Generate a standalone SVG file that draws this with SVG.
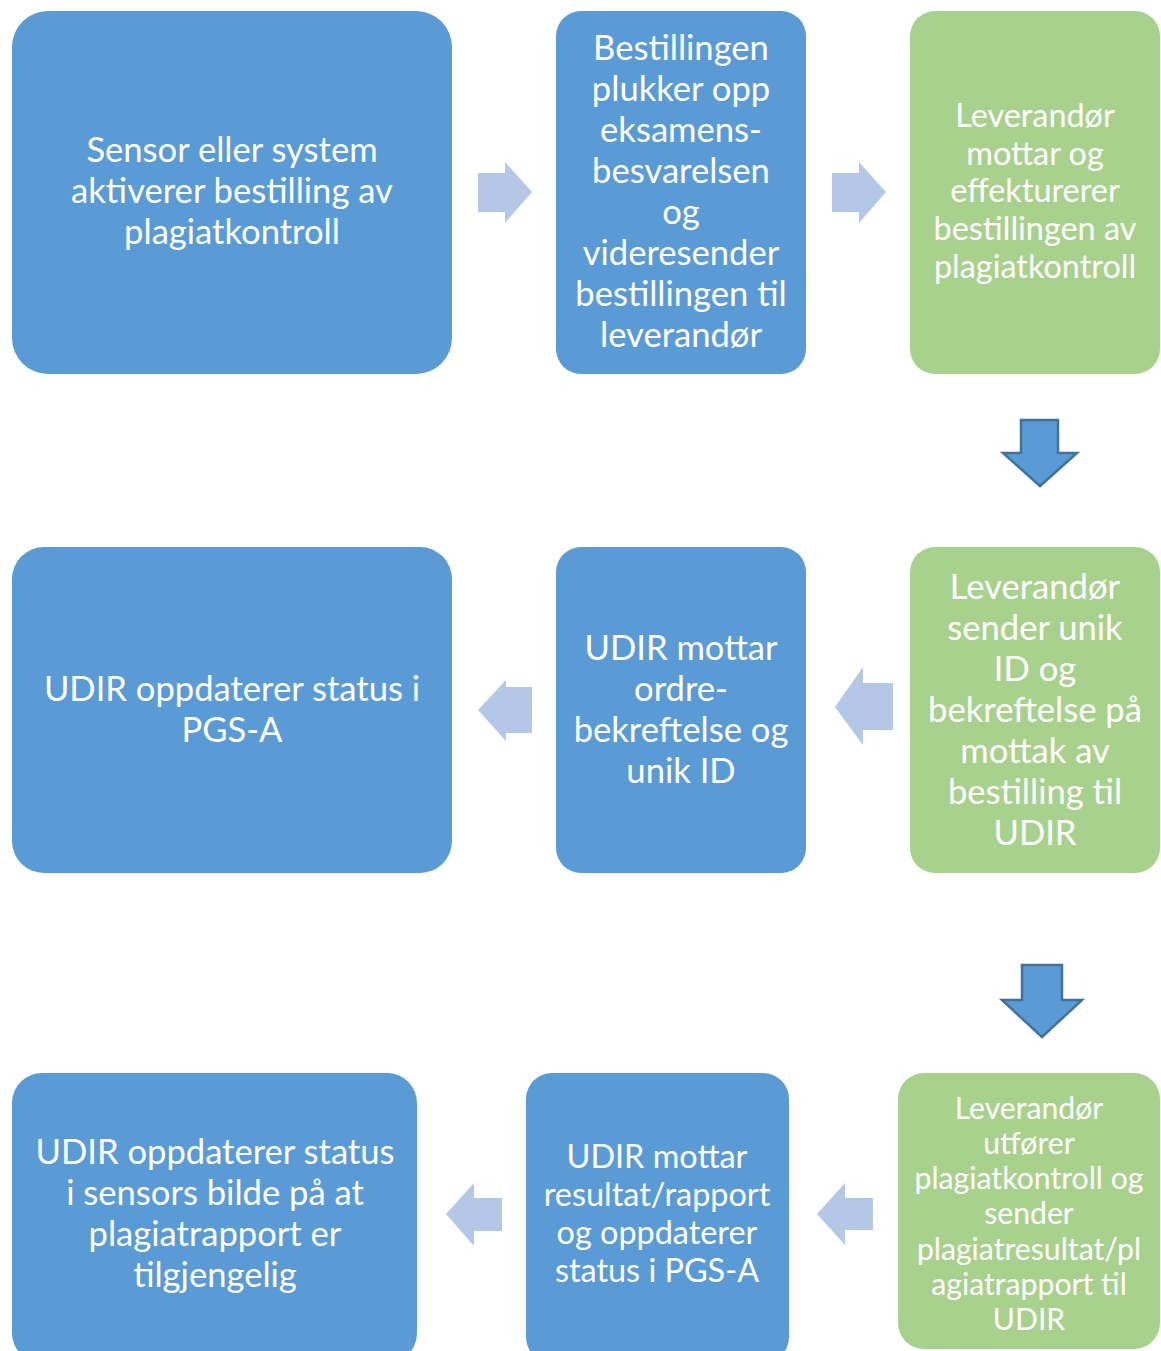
<svg xmlns="http://www.w3.org/2000/svg" width="1161" height="1351" viewBox="0 0 1161 1351">
<style>
.b{fill:#5B9BD5}
.g{fill:#A9D18E}
.t{font-family:Lato,"Open Sans","Liberation Sans",sans-serif;fill:#ffffff;text-anchor:middle}
.f32{font-size:34.6px}
.f29{font-size:32.4px}
.f27{font-size:30.2px}
.la{fill:#B4C7E7}
.da{fill:#5B9BD5;stroke:#41719C;stroke-width:2.5;stroke-linejoin:miter}
</style>
<rect width="1161" height="1351" fill="#ffffff"/>
<g id="connectors">
<polygon class="la" points="478,173 505,173 505,162 532,192 505,223 505,212 478,212"/>
<polygon class="la" points="832,173 859,173 859,162 886,192 859,223 859,212 832,212"/>
<polygon class="da" points="1021,420 1058,420 1058,453 1077,453 1040,486 1003,453 1021,453"/>
<polygon class="la" points="893,683 863,683 863,667 835,707 863,745 863,730 893,730"/>
<polygon class="la" points="532,687 506,687 506,680 478,710 506,741 506,733 532,733"/>
<polygon class="da" points="1022,965 1062,965 1062,1000 1082,1000 1042,1037 1002,1000 1022,1000"/>
<polygon class="la" points="873,1198 845,1198 845,1183 817,1214 845,1245 845,1230 873,1230"/>
<polygon class="la" points="502,1198 474,1198 474,1183 446,1214 474,1246 474,1231 502,1231"/>
</g>
<g id="n1"><rect class="b" x="12" y="11" width="440" height="363" rx="36"/>
<text class="t f32"><tspan x="232" y="162">Sensor eller system</tspan><tspan x="232" y="203">aktiverer bestilling av</tspan><tspan x="232" y="244">plagiatkontroll</tspan></text></g>
<g id="n2"><rect class="b" x="556" y="11" width="250" height="363" rx="25"/>
<text class="t f32"><tspan x="681" y="60">Bestillingen</tspan><tspan x="681" y="101">plukker opp</tspan><tspan x="681" y="142">eksamens-</tspan><tspan x="681" y="183">besvarelsen</tspan><tspan x="681" y="224">og</tspan><tspan x="681" y="265">videresender</tspan><tspan x="681" y="306">bestillingen til</tspan><tspan x="681" y="347">leverandør</tspan></text></g>
<g id="n3"><rect class="g" x="910" y="11" width="250" height="363" rx="25"/>
<text class="t f29"><tspan x="1035" y="127">Leverandør</tspan><tspan x="1035" y="165">mottar og</tspan><tspan x="1035" y="202">effekturerer</tspan><tspan x="1035" y="240">bestillingen av</tspan><tspan x="1035" y="278">plagiatkontroll</tspan></text></g>
<g id="n4"><rect class="b" x="12" y="547" width="440" height="326" rx="32"/>
<text class="t f32"><tspan x="232" y="701">UDIR oppdaterer status i</tspan><tspan x="232" y="742">PGS-A</tspan></text></g>
<g id="n5"><rect class="b" x="556" y="547" width="250" height="326" rx="25"/>
<text class="t f32"><tspan x="681" y="660">UDIR mottar</tspan><tspan x="681" y="701">ordre-</tspan><tspan x="681" y="742">bekreftelse og</tspan><tspan x="681" y="783">unik ID</tspan></text></g>
<g id="n6"><rect class="g" x="910" y="547" width="250" height="326" rx="25"/>
<text class="t f32"><tspan x="1035" y="599">Leverandør</tspan><tspan x="1035" y="640">sender unik</tspan><tspan x="1035" y="681">ID og</tspan><tspan x="1035" y="722">bekreftelse på</tspan><tspan x="1035" y="763">mottak av</tspan><tspan x="1035" y="804">bestilling til</tspan><tspan x="1035" y="845">UDIR</tspan></text></g>
<g id="n7"><rect class="b" x="12" y="1073" width="405" height="290" rx="30"/>
<text class="t f32"><tspan x="215" y="1164">UDIR oppdaterer status</tspan><tspan x="215" y="1205">i sensors bilde på at</tspan><tspan x="215" y="1246">plagiatrapport er</tspan><tspan x="215" y="1287">tilgjengelig</tspan></text></g>
<g id="n8"><rect class="b" x="526" y="1073" width="263" height="290" rx="26"/>
<text class="t f29"><tspan x="657" y="1168">UDIR mottar</tspan><tspan x="657" y="1206">resultat/rapport</tspan><tspan x="657" y="1244">og oppdaterer</tspan><tspan x="657" y="1282">status i PGS-A</tspan></text></g>
<g id="n9"><rect class="g" x="898" y="1073" width="262" height="276" rx="26"/>
<text class="t f27"><tspan x="1029" y="1119">Leverandør</tspan><tspan x="1029" y="1154">utfører</tspan><tspan x="1029" y="1189">plagiatkontroll og</tspan><tspan x="1029" y="1224">sender</tspan><tspan x="1029" y="1260">plagiatresultat/pl</tspan><tspan x="1029" y="1295">agiatrapport til</tspan><tspan x="1029" y="1330">UDIR</tspan></text></g>
</svg>
